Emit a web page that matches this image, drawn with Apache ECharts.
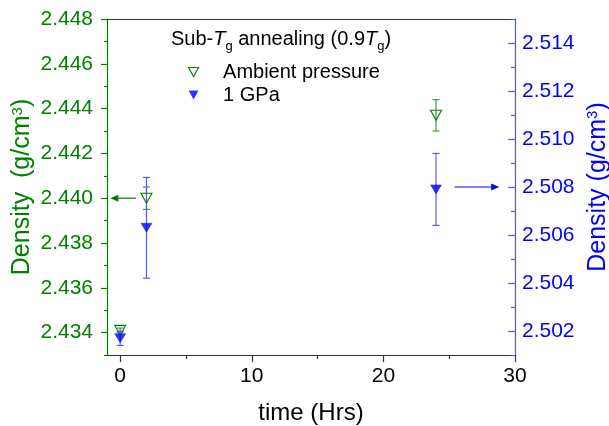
<!DOCTYPE html>
<html>
<head>
<meta charset="utf-8">
<script src="https://cdn.jsdelivr.net/npm/echarts@6/dist/echarts.min.js"></script>
<style>html,body{margin:0;padding:0;background:#fff}#c{width:609px;height:426px}</style>
</head>
<body>
<div id="c"></div>
<script>
// ---- data ----
const ambientTime = [0, 2, 24];
const ambientDensity = [2.4341, 2.4400, 2.4437];
const ambientErr = [0.0001, 0.0005, 0.0007];
const gpaTime = [0, 2, 24];
const gpaDensity = [2.5017, 2.5063, 2.5079];
const gpaErr = [0.0003, 0.0021, 0.0015];
const xTicks = [0, 10, 20, 30];
const xMinorTicks = [5, 15, 25];
const leftTicks = [2.434, 2.436, 2.438, 2.440, 2.442, 2.444, 2.446, 2.448];
const leftMinorTicks = [2.433, 2.435, 2.437, 2.439, 2.441, 2.443, 2.445, 2.447];
const rightTicks = [2.502, 2.504, 2.506, 2.508, 2.510, 2.512, 2.514];
const rightMinorTicks = [2.501, 2.503, 2.505, 2.507, 2.509, 2.511, 2.513, 2.515];
const leftArrow = [1.2, 2.440, -0.75, 2.440];   // from x,y to x,y (left axis)
const rightArrow = [25.4, 2.508, 28.8, 2.508];  // from x,y to x,y (right axis)

const FONT = 'Liberation Sans, Arial, sans-serif';
const GREEN = '#008000';
const GREEN_ERR = '#3f9f3f';
const BLUE = '#0000ff';
const BLUE_ERR = '#5a5aff';
const BLUE_AXIS = '#5555ff';

const chart = echarts.init(document.getElementById('c'), null, {renderer: 'canvas'});

function errSeries(name, t, v, e, yIdx, color) {
  return {
    type: 'custom', name: name, yAxisIndex: yIdx, z: 1,
    data: t.map((x, i) => [x, v[i], e[i]]),
    renderItem: function (params, api) {
      const x = api.value(0), y = api.value(1), err = api.value(2);
      const top = api.coord([x, y + err]);
      const bot = api.coord([x, y - err]);
      const cw = 3.5;
      const st = {stroke: color, lineWidth: 1.2};
      return {type: 'group', children: [
        {type: 'line', shape: {x1: top[0], y1: top[1], x2: bot[0], y2: bot[1]}, style: st},
        {type: 'line', shape: {x1: top[0]-cw, y1: top[1], x2: top[0]+cw, y2: top[1]}, style: st},
        {type: 'line', shape: {x1: bot[0]-cw, y1: bot[1], x2: bot[0]+cw, y2: bot[1]}, style: st}
      ]};
    }
  };
}

function arrowSeries(arr, yIdx, color) {
  return {
    type: 'custom', yAxisIndex: yIdx, z: 2, silent: true,
    data: [arr],
    renderItem: function (params, api) {
      const p0 = api.coord([api.value(0), api.value(1)]);
      const p1 = api.coord([api.value(2), api.value(3)]);
      const dir = Math.sign(p1[0] - p0[0]);
      const hl = 8, hw = 3.5;
      return {type: 'group', children: [
        {type: 'line', shape: {x1: p0[0], y1: p0[1], x2: p1[0] - dir * hl * 0.6, y2: p1[1]},
          style: {stroke: color, lineWidth: 1.2}},
        {type: 'polygon', shape: {points: [[p1[0], p1[1]], [p1[0] - dir * hl, p1[1] - hw], [p1[0] - dir * hl, p1[1] + hw]]},
          style: {fill: color}}
      ]};
    }
  };
}

const supRich = {
  n: {fontSize: 25, fontFamily: FONT},
  sup: {fontSize: 15, fontFamily: FONT, verticalAlign: 'top', padding: [0, 0, 8, 0]}
};
const TRI = 'path://M0,0L10,0L5,9Z';

const option = {
  animation: false,
  backgroundColor: '#fff',
  textStyle: {fontFamily: FONT},
  grid: {left: 107, right: 94, top: 19, bottom: 71, containLabel: false, outerBoundsMode: 'none'},
  title: {
    left: 166, top: 20,
    text: '{n|Sub-}{i|T}{s|g}{n| annealing (0.9}{i|T}{s|g}{n|)}',
    textStyle: {
      fontWeight: 'normal',
      rich: {
        n: {fontSize: 20, fontFamily: FONT, color: '#000', fontWeight: 'normal', lineHeight: 28},
        i: {fontSize: 20, fontFamily: FONT, color: '#000', fontWeight: 'normal', fontStyle: 'italic', lineHeight: 28},
        s: {fontSize: 13, fontFamily: FONT, color: '#000', fontWeight: 'normal', verticalAlign: 'bottom', lineHeight: 14}
      }
    }
  },
  legend: {
    orient: 'vertical', left: 183, top: 57,
    itemWidth: 11, itemHeight: 9, itemGap: 3,
    textStyle: {fontSize: 20, fontFamily: FONT, color: '#000', padding: [0, 0, 0, 19]},
    data: [
      {name: 'Ambient pressure', icon: TRI, itemStyle: {color: 'rgba(255,255,255,0)', borderColor: GREEN, borderWidth: 1.1}},
      {name: '1 GPa', icon: TRI, itemStyle: {color: BLUE, borderColor: BLUE, borderWidth: 0}}
    ]
  },
  xAxis: [
    {
      type: 'value', min: -1, max: 30, position: 'bottom',
      name: 'time (Hrs)', nameLocation: 'middle', nameGap: 46,
      nameTextStyle: {fontSize: 24, fontFamily: FONT, color: '#000'},
      axisLine: {show: true, onZero: false, lineStyle: {color: '#333', width: 1.2}},
      axisTick: {show: true, length: 7, inside: false, customValues: xTicks, lineStyle: {color: '#333', width: 1.2}},
      axisLabel: {show: true, customValues: xTicks, fontSize: 21, color: '#000', margin: 11, fontFamily: FONT},
      splitLine: {show: false}
    },
    {
      type: 'value', min: -1, max: 30, position: 'bottom',
      axisLine: {show: false, onZero: false},
      axisTick: {show: true, length: 4, customValues: xMinorTicks, lineStyle: {color: '#333', width: 1.2}},
      axisLabel: {show: false}, splitLine: {show: false}
    },
    {
      type: 'value', min: -1, max: 30, position: 'top',
      axisLine: {show: true, onZero: false, lineStyle: {color: '#333', width: 1.2}},
      axisTick: {show: false}, axisLabel: {show: false}, splitLine: {show: false}
    }
  ],
  yAxis: [
    {
      type: 'value', min: 2.433, max: 2.448, position: 'left',
      name: '{n|Density  (g/cm}{sup|3}{n|)}', nameLocation: 'middle', nameGap: 72, nameRotate: 90,
      nameMoveOverlap: false,
      nameTextStyle: {color: GREEN, rich: supRich},
      axisLine: {show: true, onZero: false, lineStyle: {color: GREEN, width: 1.2}},
      axisTick: {show: true, length: 6, customValues: leftTicks, lineStyle: {color: GREEN, width: 1.2}},
      axisLabel: {show: true, customValues: leftTicks, fontSize: 21, color: GREEN, margin: 14, fontFamily: FONT,
        formatter: v => v.toFixed(3)},
      splitLine: {show: false}
    },
    {
      type: 'value', min: 2.501, max: 2.515, position: 'right',
      name: '{n|Density (g/cm}{sup|3}{n|)}', nameLocation: 'middle', nameGap: 69, nameRotate: 90,
      nameTextStyle: {color: BLUE, rich: supRich},
      axisLine: {show: true, onZero: false, lineStyle: {color: BLUE_AXIS, width: 1.2}},
      axisTick: {show: true, length: 7, inside: true, customValues: rightTicks, lineStyle: {color: BLUE_AXIS, width: 1.2}},
      axisLabel: {show: true, customValues: rightTicks, fontSize: 21, color: BLUE, margin: 7, fontFamily: FONT,
        formatter: v => v.toFixed(3)},
      splitLine: {show: false}
    },
    {
      type: 'value', min: 2.433, max: 2.448, position: 'left',
      axisLine: {show: false, onZero: false},
      axisTick: {show: true, length: 3, customValues: leftMinorTicks, lineStyle: {color: GREEN, width: 1.2}},
      axisLabel: {show: false}, splitLine: {show: false}
    },
    {
      type: 'value', min: 2.501, max: 2.515, position: 'right',
      axisLine: {show: false, onZero: false},
      axisTick: {show: true, length: 4, inside: true, customValues: rightMinorTicks, lineStyle: {color: BLUE_AXIS, width: 1.2}},
      axisLabel: {show: false}, splitLine: {show: false}
    }
  ],
  series: [
    errSeries('errA', ambientTime, ambientDensity, ambientErr, 0, GREEN_ERR),
    errSeries('errB', gpaTime, gpaDensity, gpaErr, 1, BLUE_ERR),
    arrowSeries(leftArrow, 0, GREEN),
    arrowSeries(rightArrow, 1, BLUE),
    {
      type: 'scatter', name: 'Ambient pressure', yAxisIndex: 0, z: 3,
      symbol: 'triangle', symbolRotate: 180, symbolSize: [11, 10],
      itemStyle: {color: 'rgba(255,255,255,0)', borderColor: GREEN, borderWidth: 1.1, opacity: 1},
      data: ambientTime.map((x, i) => [x, ambientDensity[i]])
    },
    {
      type: 'scatter', name: '1 GPa', yAxisIndex: 1, z: 3,
      symbol: 'triangle', symbolRotate: 180, symbolSize: [11, 9],
      itemStyle: {color: BLUE, borderColor: BLUE, borderWidth: 0.5},
      data: gpaTime.map((x, i) => [x, gpaDensity[i]])
    }
  ]
};
chart.setOption(option);
</script>
</body>
</html>
